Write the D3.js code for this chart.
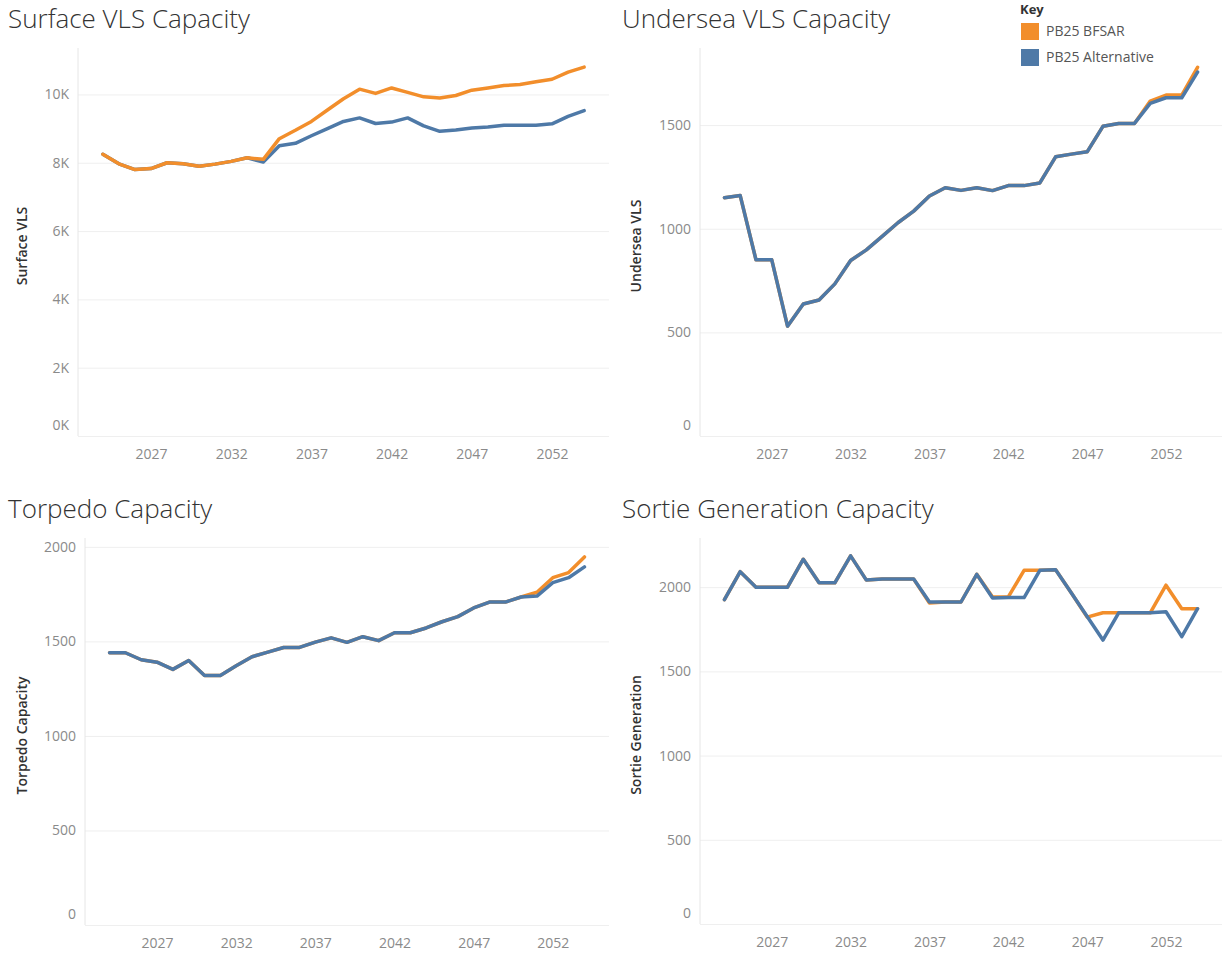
<!DOCTYPE html>
<html>
<head>
<meta charset="utf-8">
<script src="https://cdn.jsdelivr.net/npm/d3@7"></script>
<style>
  body { margin: 0; background: #fff; }
  svg { font-family: "Open Sans", Lato, sans-serif; }
</style>
</head>
<body>
<svg width="1225" height="953"></svg>
<script>
// years shared by all four panels
const years = [2024, 2025, 2026, 2027, 2028, 2029, 2030, 2031, 2032, 2033, 2034,
               2035, 2036, 2037, 2038, 2039, 2040, 2041, 2042, 2043, 2044,
               2045, 2046, 2047, 2048, 2049, 2050, 2051, 2052, 2053, 2054];
const xTicks = [2027, 2032, 2037, 2042, 2047, 2052];

// Surface VLS
const surfaceBfsar = [8250, 7970, 7800, 7830, 8000, 7970, 7900, 7960, 8040, 8145, 8100,
                      8705, 8950, 9210, 9545, 9875, 10155, 10030, 10190, 10060, 9930,
                      9895, 9970, 10125, 10190, 10260, 10290, 10370, 10445, 10655, 10800];
const surfaceAlt   = [8250, 7970, 7800, 7830, 8000, 7970, 7900, 7960, 8040, 8145, 8020,
                      8500, 8570, 8790, 9000, 9210, 9314, 9150, 9190, 9314, 9080,
                      8920, 8960, 9015, 9045, 9100, 9100, 9100, 9140, 9360, 9525];
const surfaceTicks = [0, 2000, 4000, 6000, 8000, 10000];

// Undersea VLS
const underseaBfsar = [1150, 1160, 850, 850, 530, 637, 656, 734, 847, 898, 963,
                       1029, 1085, 1158, 1198, 1185, 1198, 1184, 1208, 1208, 1221,
                       1347, 1360, 1371, 1494, 1508, 1508, 1616, 1645, 1645, 1779];
const underseaAlt   = [1150, 1160, 850, 850, 530, 637, 656, 734, 847, 898, 963,
                       1029, 1085, 1158, 1198, 1185, 1198, 1184, 1208, 1208, 1221,
                       1347, 1360, 1371, 1494, 1508, 1508, 1605, 1632, 1632, 1756];
const underseaTicks = [0, 500, 1000, 1500];

// Torpedo
const torpedoBfsar = [1440, 1440, 1403, 1390, 1352, 1399, 1320, 1320, 1371, 1419, 1443,
                      1468, 1468, 1496, 1519, 1495, 1525, 1504, 1546, 1546, 1571,
                      1604, 1631, 1677, 1708, 1708, 1735, 1760, 1837, 1864, 1947];
const torpedoAlt   = [1440, 1440, 1403, 1390, 1352, 1399, 1320, 1320, 1371, 1419, 1443,
                      1468, 1468, 1496, 1519, 1495, 1525, 1504, 1546, 1546, 1571,
                      1604, 1631, 1677, 1708, 1708, 1735, 1740, 1811, 1837, 1894];
const torpedoTicks = [0, 500, 1000, 1500, 2000];

// Sortie generation
const sortieBfsar = [1926, 2092, 2000, 2000, 2000, 2166, 2026, 2026, 2186, 2042, 2048,
                     2048, 2048, 1906, 1912, 1912, 2076, 1942, 1942, 2100, 2100,
                     2104, 1966, 1822, 1848, 1848, 1848, 1848, 2012, 1872, 1872];
const sortieAlt   = [1926, 2092, 2000, 2000, 2000, 2166, 2026, 2026, 2186, 2042, 2048,
                     2048, 2048, 1912, 1912, 1912, 2076, 1936, 1938, 1938, 2100,
                     2104, 1966, 1826, 1686, 1848, 1848, 1848, 1854, 1706, 1872];
const sortieTicks = [0, 500, 1000, 1500, 2000];

const keyLabels = ["PB25 BFSAR", "PB25 Alternative"];
const colors = ["#F28E2B", "#4E79A7"];

const svg = d3.select("svg");

const panels = [
  { title: "Surface VLS Capacity", yTitle: "Surface VLS", bfsar: surfaceBfsar, alt: surfaceAlt,
    ticks: surfaceTicks, yMax: 11360, fmt: d => (d / 1000) + "K",
    left: 78, right: 609, top: 48, bottom: 436, tx: 8, ty: 28, altOnTop: false },
  { title: "Undersea VLS Capacity", yTitle: "Undersea VLS", bfsar: underseaBfsar, alt: underseaAlt,
    ticks: underseaTicks, yMax: 1872, fmt: d => d,
    left: 700, right: 1222, top: 48, bottom: 436, tx: 622, ty: 28, altOnTop: true },
  { title: "Torpedo Capacity", yTitle: "Torpedo Capacity", bfsar: torpedoBfsar, alt: torpedoAlt,
    ticks: torpedoTicks, yMax: 2047, fmt: d => d,
    left: 85, right: 609, top: 538, bottom: 925, tx: 8, ty: 518, altOnTop: true },
  { title: "Sortie Generation Capacity", yTitle: "Sortie Generation", bfsar: sortieBfsar, alt: sortieAlt,
    ticks: sortieTicks, yMax: 2292, fmt: d => d,
    left: 700, right: 1222, top: 538, bottom: 924, tx: 622, ty: 518, altOnTop: true }
];

panels.forEach(p => {
  const x = d3.scaleLinear().domain([2022.45, 2055.55]).range([p.left, p.right]);
  const y = d3.scaleLinear().domain([0, p.yMax]).range([p.bottom, p.top]);
  const g = svg.append("g");

  // title
  g.append("text")
    .attr("x", p.tx).attr("y", p.ty)
    .style("font-size", "26px")
    .style("font-weight", "300")
    .style("fill", "#333")
    .text(p.title);

  // grid
  g.append("g")
    .attr("transform", `translate(${p.left},0)`)
    .call(d3.axisLeft(y).tickValues(p.ticks).tickSize(-(p.right - p.left)).tickFormat(""))
    .call(a => a.select(".domain").remove())
    .call(a => a.selectAll("line").attr("stroke", "#efefef"));

  // left axis line
  g.append("line")
    .attr("x1", p.left).attr("x2", p.left)
    .attr("y1", p.top).attr("y2", p.bottom)
    .attr("stroke", "#e6e6e6");

  // y labels
  const ya = g.append("g")
    .attr("transform", `translate(${p.left},0)`)
    .call(d3.axisLeft(y).tickValues(p.ticks).tickSize(0).tickPadding(9).tickFormat(p.fmt));
  ya.select(".domain").remove();
  ya.selectAll("text")
    .style("font-size", "14px")
    .style("font-family", "'Open Sans', sans-serif")
    .attr("fill", "#8a8a8a");
  ya.selectAll(".tick").filter(d => d === 0).select("text").attr("dy", "-0.45em");

  // x labels
  const xa = g.append("g")
    .attr("transform", `translate(0,${p.bottom})`)
    .call(d3.axisBottom(x).tickValues(xTicks).tickSize(0).tickPadding(13).tickFormat(d3.format("d")));
  xa.select(".domain").remove();
  xa.selectAll("text")
    .style("font-size", "14px")
    .style("font-family", "'Open Sans', sans-serif")
    .attr("fill", "#8a8a8a");

  // y title
  g.append("text")
    .attr("transform", `translate(${p.tx + 19},${(p.top + p.bottom) / 2 + 4}) rotate(-90)`)
    .attr("text-anchor", "middle")
    .style("font-size", "14px")
    .style("font-weight", "600")
    .style("fill", "#333")
    .text(p.yTitle);

  const line = d3.line()
    .x((d, i) => x(years[i]))
    .y(d => y(d));

  const series = p.altOnTop ? [[p.bfsar, colors[0]], [p.alt, colors[1]]]
                            : [[p.alt, colors[1]], [p.bfsar, colors[0]]];
  series.forEach(([vals, c]) => {
    g.append("path")
      .datum(vals)
      .attr("d", line)
      .attr("fill", "none")
      .attr("stroke", c)
      .attr("stroke-width", 3.5)
      .attr("stroke-linejoin", "round")
      .attr("stroke-linecap", "round");
  });
});

// Key
const key = svg.append("g").attr("transform", "translate(1021,0)");
key.append("text")
  .attr("x", -1).attr("y", 14)
  .style("font-size", "13px")
  .style("font-weight", "700")
  .style("fill", "#333")
  .text("Key");

key.selectAll("rect")
  .data(keyLabels)
  .enter().append("rect")
  .attr("x", 0)
  .attr("y", (d, i) => 23 + i * 26)
  .attr("width", 18)
  .attr("height", 17)
  .attr("fill", (d, i) => colors[i]);

key.selectAll("text.lbl")
  .data(keyLabels)
  .enter().append("text")
  .attr("class", "lbl")
  .attr("x", 25)
  .attr("y", (d, i) => 31.5 + i * 26)
  .attr("dy", "0.35em")
  .style("font-size", "14px")
  .style("fill", "#555")
  .text(d => d);
</script>
</body>
</html>
